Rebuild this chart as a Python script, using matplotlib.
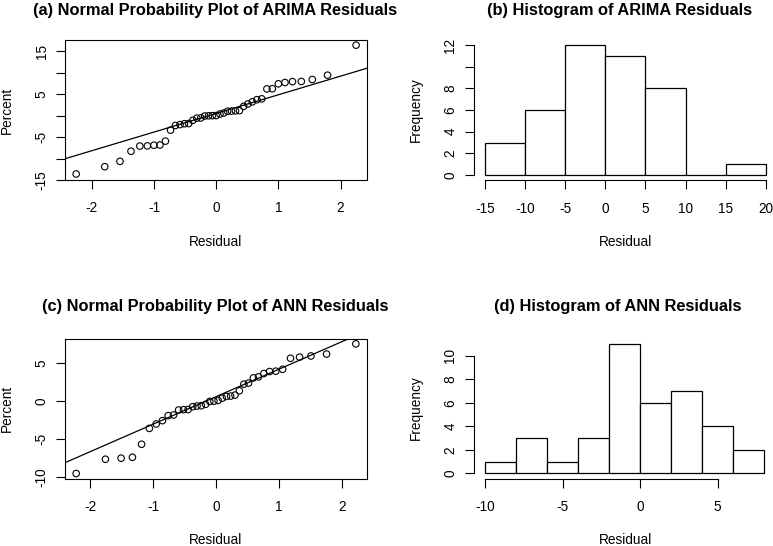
import matplotlib
matplotlib.use('Agg')
import matplotlib.pyplot as plt
import numpy as np
from statistics import NormalDist

# ---------------- data ----------------
arima_resid = [-13.6, -11.9, -10.65, -8.3, -7.1, -7.05, -6.9, -6.85, -5.95,
               -3.4, -2.3, -2.1, -1.9, -1.85, -1.1, -0.6, -0.55, -0.1, -0.05,
               -0.02, 0.0,
               0.37, 0.6, 1.0, 1.05, 1.1, 1.15, 2.15, 2.7, 3.2, 3.7, 3.9,
               6.2, 6.25, 7.4, 7.7, 7.9, 7.95, 8.4, 9.4, 16.4]
ann_resid = [-9.52, -7.64, -7.5, -7.38, -5.67, -3.58, -3.0, -2.56,
             -1.9, -1.82, -1.16, -1.12, -1.1, -0.73, -0.64, -0.6, -0.42,
             -0.03, 0.0,
             0.1, 0.4, 0.62, 0.67, 0.8, 1.37,
             2.24, 2.38, 3.07, 3.2, 3.64, 3.9, 3.95,
             4.2, 5.65, 5.8, 5.95, 6.2, 7.54]

# reference lines of the normal probability plots (intercept, slope)
arima_line = (0.5, 4.34)
ann_line = (0.59, 3.62)

arima_bins = [-15, -10, -5, 0, 5, 10, 15, 20]
arima_counts = [3, 6, 12, 11, 8, 0, 1]
ann_bins = [-10, -8, -6, -4, -2, 0, 2, 4, 6, 8]
ann_counts = [1, 3, 1, 3, 11, 6, 7, 4, 2]

titles = ["(a) Normal Probability Plot of ARIMA Residuals",
          "(b) Histogram of ARIMA Residuals",
          "(c) Normal Probability Plot of ANN Residuals",
          "(d) Histogram of ANN Residuals"]

# ---------------- style ----------------
plt.rcParams['font.family'] = ['Liberation Sans', 'DejaVu Sans']
plt.rcParams['font.size'] = 9.8
plt.rcParams['axes.unicode_minus'] = False
plt.rcParams['axes.linewidth'] = 0.8
plt.rcParams['xtick.major.size'] = 6.3
plt.rcParams['ytick.major.size'] = 6.3
plt.rcParams['xtick.major.width'] = 0.8
plt.rcParams['ytick.major.width'] = 0.8
plt.rcParams['xtick.direction'] = 'out'
plt.rcParams['ytick.direction'] = 'out'

W, H = 773, 546
fig = plt.figure(figsize=(W / 100, H / 100), dpi=100)


def add_ax(x0, y0, x1, y1):
    return fig.add_axes([x0 / W, 1 - y1 / H, (x1 - x0) / W, (y1 - y0) / H])


def ftext(x, y, s, **kw):
    fig.text(x / W, 1 - y / H, s, **kw)


def style_ticks(ax):
    ax.tick_params(axis='x', pad=9.0, labelsize=9.8)
    ax.tick_params(axis='y', pad=5.5, labelsize=9.8)
    for lab in ax.get_yticklabels():
        lab.set_rotation(90)
        lab.set_va('center')
        lab.set_ha('right')


def qq_panel(ax, data, line):
    n = len(data)
    y = np.sort(np.array(data))
    nd = NormalDist()
    x = np.array([nd.inv_cdf((i - 0.5) / n) for i in range(1, n + 1)])
    ax.scatter(x, y, s=22, facecolors='none', edgecolors='black',
               linewidths=0.8, zorder=3)
    ax.margins(x=0.04, y=0.04)
    ax.autoscale_view()
    ax.axline((0, line[0]), slope=line[1], color='black', lw=0.9, zorder=2)
    ax.set_xticks([-2, -1, 0, 1, 2])


def hist_panel(ax, bins, counts, xticks, yticks, ylabels):
    edges = np.array(bins, dtype=float)
    ax.bar(edges[:-1], counts, width=np.diff(edges), align='edge',
           facecolor='white', edgecolor='black', linewidth=0.9)
    span = edges[-1] - edges[0]
    ax.set_xlim(edges[0] - 0.04 * span, edges[-1] + 0.04 * span)
    ymax = max(counts)
    ax.set_ylim(-0.04 * ymax, ymax * 1.04)
    for s in ['top', 'right']:
        ax.spines[s].set_visible(False)
    ax.spines['bottom'].set_bounds(xticks[0], xticks[-1])
    ax.spines['left'].set_bounds(yticks[0], yticks[-1])
    ax.set_xticks(xticks)
    ax.set_yticks(yticks)
    ax.set_yticklabels(ylabels)


# (a)
axa = add_ax(65, 40, 367.3, 180)
qq_panel(axa, arima_resid, arima_line)
axa.set_yticks([-15, -10, -5, 0, 5, 10, 15])
axa.set_yticklabels(['-15', '', '-5', '', '5', '', '15'])
style_ticks(axa)

# (c)
axc = add_ax(65, 338.7, 367, 478.7)
qq_panel(axc, ann_resid, ann_line)
axc.set_yticks([-10, -5, 0, 5])
axc.set_yticklabels(['-10', '-5', '0', '5'])
style_ticks(axc)

# (b)
axb = add_ax(473.8, 39.8, 777, 180.3)
hist_panel(axb, arima_bins, arima_counts, [-15, -10, -5, 0, 5, 10, 15, 20],
           [0, 2, 4, 6, 8, 10, 12], ['0', '2', '4', '6', '8', '', '12'])
style_ticks(axb)

# (d)
axd = add_ax(473.8, 338.8, 775.4, 478.5)
hist_panel(axd, ann_bins, ann_counts, [-10, -5, 0, 5],
           [0, 2, 4, 6, 8, 10], ['0', '2', '4', '6', '8', '10'])
style_ticks(axd)

# titles
tkw = dict(ha='center', va='baseline', fontsize=11.8, fontweight='bold')
ftext(215, 14.5, titles[0], **tkw)
ftext(620, 14.5, titles[1], **tkw)
ftext(215, 310.5, titles[2], **tkw)
ftext(618, 310.5, titles[3], **tkw)

# axis titles
lkw = dict(ha='center', va='baseline', fontsize=9.8)
ftext(216, 246, "Residual", **lkw)
ftext(625, 246.5, "Residual", **lkw)
ftext(216, 544.5, "Residual", **lkw)
ftext(625, 543.5, "Residual", **lkw)

ykw = dict(ha='center', va='center', rotation=90, fontsize=9.8)
ftext(7, 110, "Percent", **ykw)
ftext(7, 408, "Percent", **ykw)
ftext(416, 110, "Frequency", **ykw)
ftext(416, 408, "Frequency", **ykw)

fig.savefig('out.png', dpi=100)
